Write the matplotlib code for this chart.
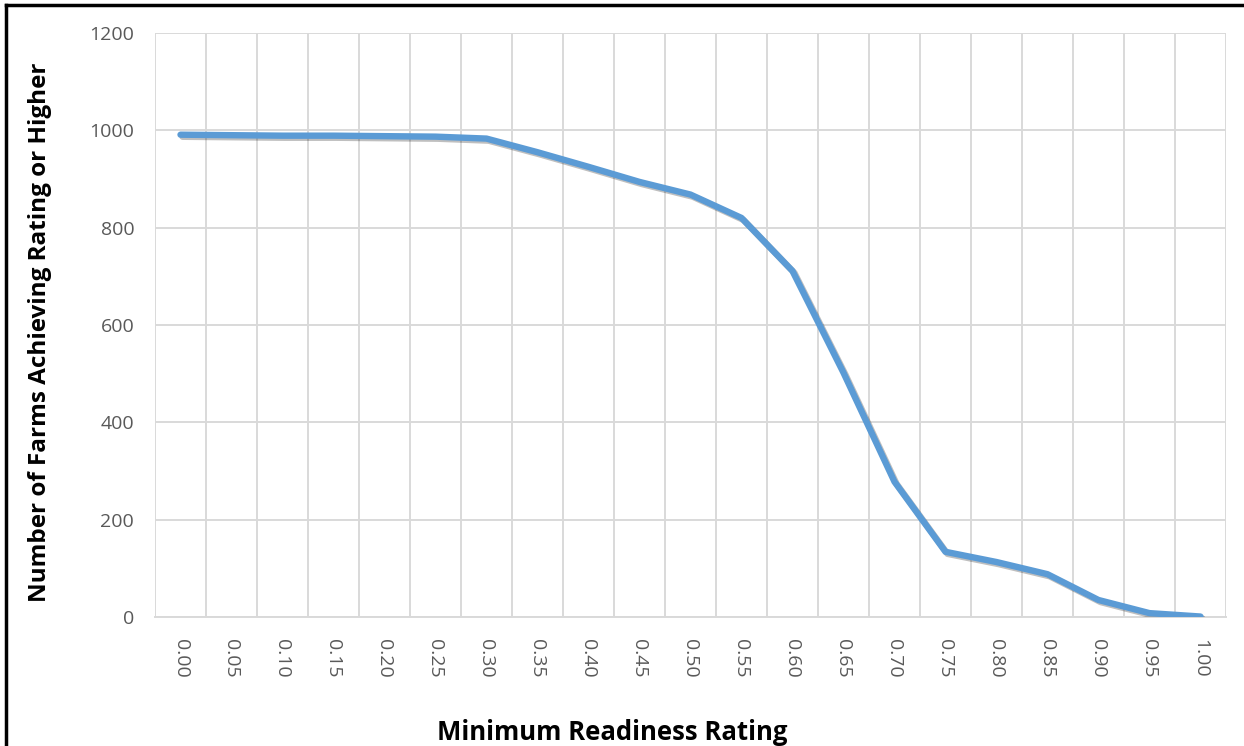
import numpy as np
import matplotlib.pyplot as plt
import matplotlib.patheffects as pe
from matplotlib.lines import Line2D

# ----- data -----
ratings = ["0.00", "0.05", "0.10", "0.15", "0.20", "0.25", "0.30", "0.35", "0.40", "0.45", "0.50",
           "0.55", "0.60", "0.65", "0.70", "0.75", "0.80", "0.85", "0.90", "0.95", "1.00"]
farms = [991, 990, 989, 989, 988, 987, 983, 955, 925, 894, 868,
         820, 711, 502, 278, 134, 113, 88, 35, 8, 1]
y_ticks = [0, 200, 400, 600, 800, 1000, 1200]

LINE_COLOR = "#5B9BD5"
GRID_COLOR = "#D9D9D9"
TICK_COLOR = "#595959"

plt.rcParams["font.family"] = ["Open Sans", "DejaVu Sans"]

fig = plt.figure(figsize=(12.44, 7.46), dpi=100)
ax = fig.add_axes([0.1246, 0.1729, 0.8609, 0.7829])

x = np.arange(len(ratings))
ax.plot(x, farms, color=LINE_COLOR, lw=4.6, solid_capstyle="round", solid_joinstyle="round",
        zorder=3,
        path_effects=[pe.SimpleLineShadow(offset=(1.5, -1.5), shadow_color="black", alpha=0.25),
                      pe.Normal()])

ax.set_xlim(-0.5, len(ratings) - 0.5)
ax.set_ylim(0, 1200)
ax.set_xticks(x)
ax.set_xticklabels(ratings, rotation=270)
ax.set_xticks(np.arange(-0.5, len(ratings)), minor=True)
ax.set_yticks(y_ticks)

ax.grid(True, which="minor", axis="x", color=GRID_COLOR, lw=1.4)
ax.grid(True, which="major", axis="y", color=GRID_COLOR, lw=1.4)
ax.tick_params(axis="x", which="both", length=0, pad=16, labelsize=14, labelcolor=TICK_COLOR)
ax.tick_params(axis="y", length=0, pad=15, labelsize=14, labelcolor=TICK_COLOR)

for side in ["top", "right", "left"]:
    ax.spines[side].set_visible(False)
ax.spines["bottom"].set_color(GRID_COLOR)
ax.spines["bottom"].set_linewidth(1.4)

# axis titles placed in figure pixels to match the layout
fig.text(612 / 1244, 1 - 732 / 746, "Minimum Readiness Rating", fontsize=18.5, fontweight="bold",
         ha="center", va="center")
fig.text(40 / 1244, 1 - 332 / 746, "Number of Farms Achieving Rating or Higher", fontsize=17.5,
         fontweight="bold", ha="center", va="center", rotation=90)

# black frame on left and top edges of the picture
fig.add_artist(Line2D([0.005, 0.005], [0.0, 0.993], transform=fig.transFigure, color="black", lw=2.5))
fig.add_artist(Line2D([0.005, 1.0], [0.993, 0.993], transform=fig.transFigure, color="black", lw=2.5))

fig.savefig("out.png", dpi=100)
